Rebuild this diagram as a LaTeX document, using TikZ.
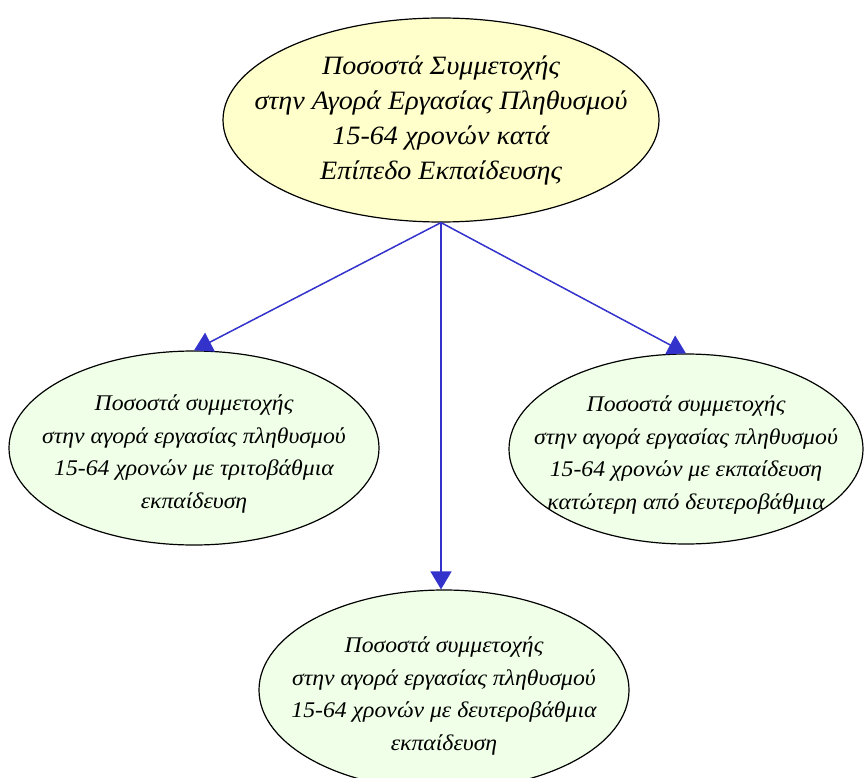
\documentclass[tikz,border=0pt]{standalone}
\usepackage{fontspec}
\setmainfont{Liberation Serif}
\usetikzlibrary{shapes.geometric,arrows.meta}
\definecolor{topfill}{HTML}{FFFFCC}
\definecolor{leaffill}{HTML}{F0FFE8}
\definecolor{edgeblue}{HTML}{3333CC}
\tikzset{
  oval/.style={ellipse, draw=black, line width=1.2pt, inner sep=0pt},
  toptext/.style={align=center, inner sep=0pt,
    font=\addfontfeatures{FakeStretch=1.06}\fontsize{26.5}{35}\selectfont\itshape},
  leaftext/.style={align=center, inner sep=0pt, yshift=-6pt,
    font=\addfontfeatures{FakeStretch=1.06}\fontsize{22.4}{32.6}\selectfont\itshape},
  topoval/.style={oval, fill=topfill, minimum width=436pt, minimum height=204pt},
  leafoval/.style={oval, fill=leaffill},
  link/.style={draw=edgeblue, line width=1.5pt, -{Triangle[length=18pt,width=21pt]}}
}
\begin{document}
\begin{tikzpicture}[x=1pt,y=-1pt]
\useasboundingbox (0,0) rectangle (864,778);
\node[topoval, label={[toptext]center:{Ποσοστά Συμμετοχής\\στην Αγορά Εργασίας Πληθυσμού\\15-64 χρονών κατά\\Επίπεδο Εκπαίδευσης}}] (top) at (441,120) {};
\node[leafoval, minimum width=370pt, minimum height=194pt, label={[leaftext]center:{Ποσοστά συμμετοχής\\στην αγορά εργασίας πληθυσμού\\15-64 χρονών με τριτοβάθμια\\εκπαίδευση}}] (left) at (194,448) {};
\node[leafoval, minimum width=354pt, minimum height=190pt, label={[leaftext]center:{Ποσοστά συμμετοχής\\στην αγορά εργασίας πληθυσμού\\15-64 χρονών με εκπαίδευση\\κατώτερη από δευτεροβάθμια}}] (right) at (686,449) {};
\node[leafoval, minimum width=370pt, minimum height=200pt, label={[leaftext]center:{Ποσοστά συμμετοχής\\στην αγορά εργασίας πληθυσμού\\15-64 χρονών με δευτεροβάθμια\\εκπαίδευση}}] (bottom) at (444,690) {};
\coordinate (src) at (top.south);
\draw[link] (src) -- (left.north);
\draw[link] (src) -- (bottom.north -| src);
\draw[link] (src) -- (right.north);
\end{tikzpicture}
\end{document}
